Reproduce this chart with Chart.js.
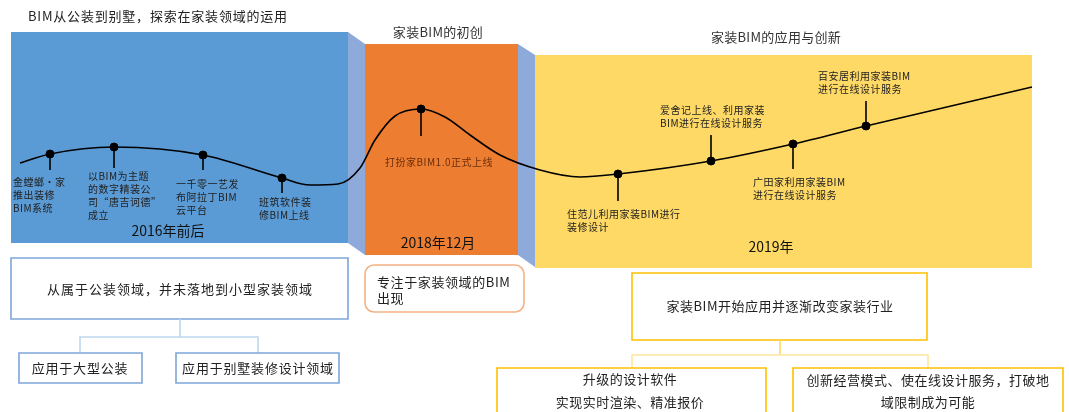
<!DOCTYPE html>
<html>
<head>
<meta charset="utf-8">
<script src="https://cdn.jsdelivr.net/npm/chart.js@4.4.0/dist/chart.umd.min.js"></script>
<style>
  body { margin: 0; background: #fff; }
  #wrap { width: 1069px; height: 412px; }
</style>
</head>
<body>
<div id="wrap"><canvas id="timeline" width="1069" height="412"></canvas></div>
<script>
// timeline curve (x left->right, y top->down)
const curveX = [20, 50, 114, 203, 282, 310, 338, 360, 375, 395, 421, 445, 470, 500, 540, 580, 618, 711, 793, 866, 1032];
const curveY = [163, 154, 147, 155, 178, 185, 184, 168, 140, 116, 109, 117, 135, 155, 170, 177, 174, 161, 144, 126, 87];

// events sitting on the curve
const eventX = [50, 114, 203, 282, 421, 618, 711, 793, 866];
const eventY = [154, 147, 155, 178, 109, 174, 161, 144, 126];
const eventText = [
  ["金螳螂·家", "推出装修", "BIM系统"],
  ["以BIM为主题", "的数字精装公", "司“唐吉诃德”", "成立"],
  ["一千零一艺发", "布阿拉丁BIM", "云平台"],
  ["班筑软件装", "修BIM上线"],
  ["打扮家BIM1.0正式上线"],
  ["住范儿利用家装BIM进行", "装修设计"],
  ["爱舍记上线、利用家装", "BIM进行在线设计服务"],
  ["广田家利用家装BIM", "进行在线设计服务"],
  ["百安居利用家装BIM", "进行在线设计服务"]
];

// the three phases
const phaseNames = ["BIM从公装到别墅，探索在家装领域的运用", "家装BIM的初创", "家装BIM的应用与创新"];
const phaseDates = ["2016年前后", "2018年12月", "2019年"];
const phaseSummary = [
  ["从属于公装领域，并未落地到小型家装领域"],
  ["专注于家装领域的BIM", "出现"],
  ["家装BIM开始应用并逐渐改变家装行业"]
];
const blueSubs = ["应用于大型公装", "应用于别墅装修设计领域"];
const yellowSubs = [
  ["升级的设计软件", "实现实时渲染、精准报价"],
  ["创新经营模式、使在线设计服务，打破地", "域限制成为可能"]
];

// layout of the labels: [left x, first line y, end of tick y]
const labelPos = [
  [13, 182, 170], [88, 176, 168], [176, 184, 170], [259, 202, 193],
  [385, 162, 136], [567, 214, 201], [660, 110, 135], [753, 182, 169], [818, 76, 101]
];

const FONT = '"Noto Sans CJK SC", "Noto Sans", sans-serif';

const infographic = {
  id: "infographic",
  beforeDatasetsDraw(chart) {
    const ctx = chart.ctx;
    const sx = chart.scales.x, sy = chart.scales.y;
    const X = v => sx.getPixelForValue(v);
    const Y = v => sy.getPixelForValue(v);

    function rect(x0, y0, x1, y1, fill) {
      ctx.fillStyle = fill;
      ctx.fillRect(X(x0), Y(y0), X(x1) - X(x0), Y(y1) - Y(y0));
    }
    function poly(pts, fill) {
      ctx.beginPath();
      pts.forEach((p, i) => i ? ctx.lineTo(X(p[0]), Y(p[1])) : ctx.moveTo(X(p[0]), Y(p[1])));
      ctx.closePath();
      ctx.fillStyle = fill;
      ctx.fill();
    }
    function text(t, x, y, size, color, align, spacing) {
      ctx.font = size + "px " + FONT;
      ctx.fillStyle = color;
      ctx.textAlign = align || "left";
      ctx.textBaseline = "middle";
      ctx.letterSpacing = (spacing || 0) + "px";
      ctx.fillText(t, X(x), Y(y));
      ctx.letterSpacing = "0px";
    }
    function box(x0, y0, x1, y1, color, radius) {
      ctx.strokeStyle = color;
      ctx.lineWidth = 1.6;
      ctx.beginPath();
      if (radius) ctx.roundRect(X(x0), Y(y0), X(x1) - X(x0), Y(y1) - Y(y0), radius);
      else ctx.rect(X(x0), Y(y0), X(x1) - X(x0), Y(y1) - Y(y0));
      ctx.stroke();
    }
    function path(pts, color) {
      ctx.strokeStyle = color;
      ctx.lineWidth = 1.6;
      ctx.beginPath();
      pts.forEach((p, i) => i ? ctx.lineTo(X(p[0]), Y(p[1])) : ctx.moveTo(X(p[0]), Y(p[1])));
      ctx.stroke();
    }

    ctx.save();
    // phase backgrounds
    rect(11, 32, 348, 243, "#5b9bd5");
    poly([[348, 32], [365, 44], [365, 255], [348, 243]], "#8eaadb");
    rect(365, 44, 518, 255, "#ed7d31");
    poly([[518, 44], [535, 55], [535, 267], [518, 255]], "#8eaadb");
    rect(535, 55, 1032, 268, "#ffd966");

    // phase titles and dates
    text(phaseNames[0], 28, 16, 13, "#222", "left", 0.8);
    text(phaseNames[1], 438, 32, 13, "#333", "center", 0.3);
    text(phaseNames[2], 776, 37, 13, "#333", "center", 0.3);
    text(phaseDates[0], 168, 231, 14, "#111", "center");
    text(phaseDates[1], 438, 243, 14, "#111", "center");
    text(phaseDates[2], 771, 247, 14, "#111", "center");

    // summary under the blue phase
    box(11, 258, 348, 319, "#7ea6d8");
    text(phaseSummary[0][0], 180, 289, 13, "#222", "center", 1);
    path([[180, 319], [180, 337]], "#bdd7ee");
    path([[80, 353], [80, 337], [258, 337], [258, 353]], "#bdd7ee");
    box(19, 353, 142, 383, "#7ea6d8");
    box(176, 353, 339, 383, "#7ea6d8");
    text(blueSubs[0], 80, 368, 13, "#222", "center", 0.8);
    text(blueSubs[1], 258, 368, 13, "#222", "center", 0.8);

    // summary under the orange phase
    box(365, 265, 524, 312, "#f4b183", 9);
    text(phaseSummary[1][0], 377, 282, 13, "#222", "left", 0.6);
    text(phaseSummary[1][1], 377, 298, 13, "#222", "left", 0.6);

    // summary under the yellow phase
    box(632, 273, 927, 340, "#ffc000");
    text(phaseSummary[2][0], 780, 306, 13, "#222", "center", 0.5);
    path([[780, 340], [780, 355]], "#ffd966");
    path([[632, 368], [632, 355], [928, 355], [928, 368]], "#ffe699");
    box(497, 368, 766, 420, "#ffc000");
    box(793, 368, 1063, 420, "#ffc000");
    text(yellowSubs[0][0], 630, 379, 13, "#222", "center", 0.5);
    text(yellowSubs[0][1], 630, 402, 13, "#222", "center", 0.5);
    text(yellowSubs[1][0], 928, 380, 13, "#222", "center", 0.5);
    text(yellowSubs[1][1], 928, 402, 13, "#222", "center", 0.5);

    // ticks and event labels
    eventX.forEach((ex, i) => {
      const p = labelPos[i];
      path([[ex, eventY[i]], [ex, p[2]]], "#000");
      const color = i === 4 ? "#6b2e0a" : "#222";
      eventText[i].forEach((line, j) => {
        text(line, p[0], p[1] + j * 13, 10, color, "left", 0.5);
      });
    });
    ctx.restore();
  }
};

new Chart(document.getElementById("timeline"), {
  type: "scatter",
  data: {
    datasets: [
      {
        type: "line",
        data: curveX.map((x, i) => ({ x: x, y: curveY[i] })),
        borderColor: "#000",
        borderWidth: 1.6,
        pointRadius: 0,
        cubicInterpolationMode: "monotone",
        fill: false,
        order: 2
      },
      {
        data: eventX.map((x, i) => ({ x: x, y: eventY[i] })),
        pointRadius: 4,
        pointBackgroundColor: "#000",
        pointBorderColor: "#000",
        order: 1
      }
    ]
  },
  options: {
    responsive: false,
    animation: false,
    layout: { padding: 0, autoPadding: false },
    plugins: { legend: { display: false }, tooltip: { enabled: false } },
    scales: {
      x: { type: "linear", min: 0, max: 1069, display: false },
      y: { type: "linear", min: 0, max: 412, reverse: true, display: false }
    }
  },
  plugins: [infographic]
});
</script>
</body>
</html>
